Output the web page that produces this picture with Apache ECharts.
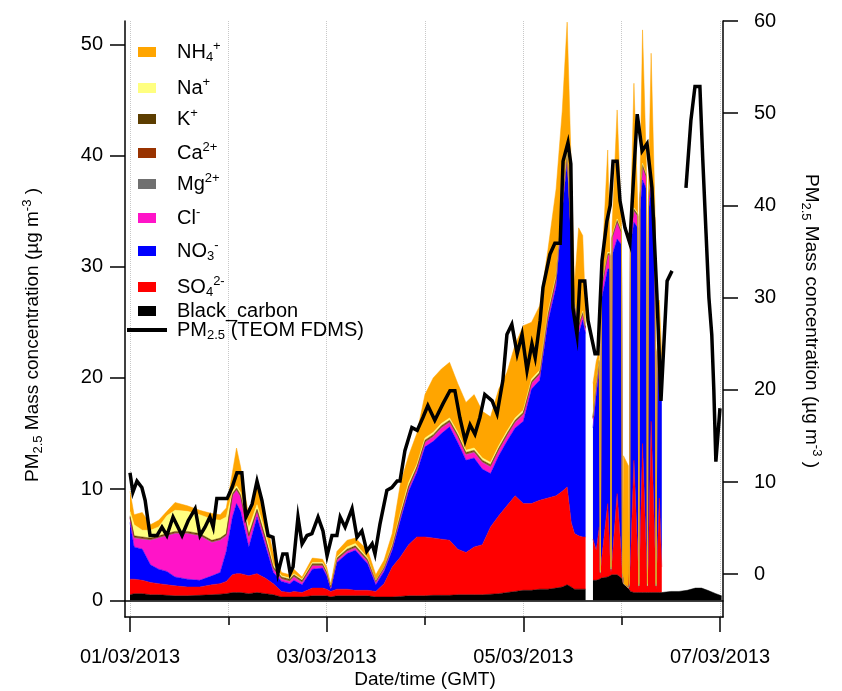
<!DOCTYPE html>
<html lang="en">
<head>
<meta charset="UTF-8">
<title>PM2.5 composition</title>
<script src="https://cdn.jsdelivr.net/npm/echarts@6/dist/echarts.min.js"></script>
<style>
  html, body { margin: 0; padding: 0; background: #fff; }
  #main { width: 842px; height: 691px; }
</style>
</head>
<body>
<div id="main"></div>
<script>
// hours since 01/03/2013 00:00 GMT
var hours = [
  0, 1, 3, 5, 7, 9, 11, 14, 17, 20, 22, 23.5,
  25, 26, 27, 29, 31, 33, 35, 37, 39, 40,
  42, 44.5, 47, 48, 49, 50.5, 53, 55, 58, 60,
  62, 64, 66, 68, 70, 72, 74, 76, 78, 80,
  82, 84, 86, 88, 90, 92, 94, 96, 98, 100,
  102, 104, 105.5, 106.7, 107.7, 108.5, 109.5, 110.5, 111.2,
  112,
  113, 113.8, 114.55, 114.8, 115.05, 116.6, 117.15, 117.4, 117.65, 118.9,
  119.95, 120.2, 120.45, 121.65, 121.9, 122.15, 123, 123.95, 124.2, 124.45,
  125.1, 126.05, 126.3, 126.55, 127.2, 128.15, 128.4, 128.65, 129.2, 129.8,
  130, 132, 134, 136, 138, 139.5, 141, 143, 144.4
];

var blackCarbon = [
  .5, .6, .6, .5, .5, .45, .4, .4, .45, .5, .55, .6,
  .7, .7, .7, .6, .7, .6, .5, .3, .3, .3,
  .3, .4, .4, .4, .3, .4, .4, .4, .4, .3,
  .3, .3, .35, .4, .4, .4, .45, .45, .45, .5,
  .5, .5, .5, .55, .6, .7, .8, .9, .9, 1.0,
  1.0, 1.1, 1.2, 1.4, 1.2, 1.0, 1.0, 1.0, 1.0,
  null,
  1.8, 1.8, 1.9, 1.9, 2.0, 2.1, 2.2, 2.2, 2.3, 2.3,
  2.0, 1.8, 1.5, 1.1, 1.0, .8, .7, .7, .7, .7,
  .7, .7, .7, .7, .7, .7, .7, .7, .7, .7,
  .7, .8, .8, .9, 1.1, 1.1, .9, .6, .4
];

var sulphate = [
  1.4, 1.3, 1.2, 1.1, 1.0, .95, .9, .8, .75, .9, .95, 1.1,
  1.6, 1.7, 1.7, 1.6, 1.7, 1.4, 1.0, .5, .4, .5,
  .4, .7, .7, .6, .5, .6, .6, .5, .5, .5,
  1.2, 2.7, 3.55, 4.6, 5.3, 5.3, 5.15, 5.05, 4.95, 4.1,
  3.8, 4.3, 4.5, 6.05, 7.0, 7.8, 8.6, 7.8, 7.8, 8.0,
  8.2, 8.3, 8.6, 8.8, 5.8, 5.0, 4.8, 4.7, 4.7,
  null,
  3.7, 2.7, 4.7, .3, 1.5, 6.6, 1.8, .3, 1.2, 7.3,
  2.0, .2, 0, 0, .2, 2.7, 11.9, 3.3, .3, 3.3,
  13.4, 3.3, .3, 3.3, 15.4, 3.8, .3, 2.8, 8.5, 2.3,
  null, null, null, null, null, null, null, null, null
];

var nitrate = [
  5.1, 2.9, 2.8, 1.6, 1.3, 1.2, .8, .7, .6, .8, 1.0, 2.7,
  5.2, 6.3, 5.6, 2.6, 5.1, 3.0, 1.0, .9, .8, 1.0,
  .7, 1.7, 1.8, 1.2, .2, 2.4, 3.2, 3.6, 2.4, .6,
  1.1, 1.5, 3.3, 4.8, 5.8, 8.1, 8.7, 9.5, 10.2, 9.6,
  8.3, 8.0, 6.8, 4.8, 5.4, 5.8, 6.1, 7.4, 10.3, 10.8,
  15.8, 18.8, 25.2, 29.3, 25.0, 20.0, 18.2, 19.5, 18.3,
  null,
  10.0, 14.0, 14.2, .3, 23.5, 21.1, 25.8, .3, 27.5, 22.9,
  28.0, .2, 0, 0, .2, 28.5, 21.4, 29.5, .3, 31.0,
  23.7, 33.0, .3, 31.0, 20.9, 28.5, .3, 18.5, 13.8, 18.0,
  null, null, null, null, null, null, null, null, null
];

var chloride = [
  .4, .8, .9, 2.2, 2.8, 3.2, 3.9, 4.1, 4.0, 3.0, 2.9, 1.4,
  1.9, 1.2, 1.3, .9, .5, .5, .3, .2, .2, .3,
  .2, .3, .2, .2, .1, .2, .2, .2, .2, .2,
  .2, .2, .3, .3, .3, .4, .4, .5, .4, .5,
  .5, .5, .6, .6, .5, .5, .5, .6, .5, .5,
  .5, .6, .6, .5, .5, .5, .6, .5, .4,
  null,
  .8, .7, .6, 0, 1.0, 1.2, 1.2, 0, 1.5, 1.5,
  1.0, 0, 0, 0, 0, 1.0, 1.0, 1.0, 0, 1.0,
  1.2, 1.0, 0, 1.0, 1.0, 1.0, 0, .3, .3, .2,
  null, null, null, null, null, null, null, null, null
];

var magnesium = [
  .04, .04, .04, .04, .04, .04, .04, .04, .04, .04, .04, .04,
  .04, .04, .04, .04, .04, .04, .04, .04, .04, .04,
  .04, .04, .04, .04, .04, .04, .04, .04, .04, .04,
  .04, .04, .04, .04, .04, .04, .04, .04, .04, .04,
  .04, .04, .04, .04, .04, .04, .04, .04, .04, .04,
  .04, .04, .04, .04, .04, .04, .04, .04, .04,
  null,
  .04, .04, .04, 0, .04, .04, .04, 0, .04, .04,
  .04, 0, 0, 0, 0, .04, .04, .04, 0, .04,
  .04, .04, 0, .04, .04, .04, 0, .04, .04, .04,
  null, null, null, null, null, null, null, null, null
];

var calcium = [
  .06, .06, .06, .06, .06, .06, .06, .06, .06, .06, .06, .06,
  .06, .06, .06, .06, .06, .06, .06, .06, .06, .06,
  .06, .06, .06, .06, .06, .06, .06, .06, .06, .06,
  .06, .06, .06, .06, .06, .06, .06, .06, .06, .06,
  .06, .06, .06, .06, .06, .06, .06, .06, .06, .06,
  .06, .06, .06, .06, .06, .06, .06, .06, .06,
  null,
  .06, .06, .06, 0, .06, .06, .06, 0, .06, .06,
  .06, 0, 0, 0, 0, .06, .06, .06, 0, .06,
  .06, .06, 0, .06, .06, .06, 0, .06, .06, .06,
  null, null, null, null, null, null, null, null, null
];

var potassium = [
  .1, .1, .1, .1, .1, .1, .1, .1, .1, .1, .1, .1,
  .1, .1, .1, .1, .1, .1, .1, .1, .1, .1,
  .1, .1, .1, .1, .1, .1, .1, .1, .1, .1,
  .1, .1, .1, .1, .1, .1, .1, .1, .1, .1,
  .1, .1, .1, .1, .1, .1, .1, .1, .1, .1,
  .1, .1, .1, .1, .1, .1, .1, .1, .1,
  null,
  .1, .1, .1, 0, .1, .1, .1, 0, .1, .1,
  .1, 0, 0, 0, 0, .1, .1, .1, 0, .1,
  .1, .1, 0, .1, .1, .1, 0, .1, .1, .1,
  null, null, null, null, null, null, null, null, null
];

var sodium = [
  .4, 1.0, .6, .7, .8, 1.6, 1.9, 1.8, 1.7, 1.9, 1.6, 1.5,
  .2, .2, .2, .6, .4, .5, .2, .1, .1, .1,
  .1, .1, .1, .1, .05, .1, .2, .2, .1, 0,
  0, .1, .2, .3, .2, .2, .2, .2, .2, .2,
  .2, .2, .2, .2, .2, .2, .2, .2, .2, .2,
  .2, .2, .2, .2, .1, .1, .1, .1, .1,
  null,
  .1, .1, .1, 0, .1, .1, .1, 0, .1, .1,
  .1, 0, 0, 0, 0, .1, .1, .1, 0, .1,
  .1, .1, 0, .1, .1, .1, 0, .1, .1, .1,
  null, null, null, null, null, null, null, null, null
];

var ammonium = [
  1.8, .9, 1.6, .5, .6, .4, .7, .5, .4, .5, .5, .8,
  1.7, 3.4, 2.3, 1.0, 1.9, 1.3, 1.0, .3, .3, .4,
  .2, .4, .3, .3, .1, .5, .6, .5, .7, .5,
  .6, 1.0, 2.6, 2.4, 2.8, 3.9, 4.9, 4.9, 5.0, 4.4,
  4.3, 4.8, 4.2, 4.1, 5.1, 5.3, 6.6, 7.6, 5.1, 5.8,
  5.6, 7.8, 8.0, 11.6, 6.2, 1.7, 8.6, 6.8, 1.3,
  null,
  2.9, 2.0, .8, .2, .7, 9.2, .7, .2, .7, 9.8,
  .7, .2, 11.5, 11.0, .1, .7, 11.2, .7, .2, .7,
  12.0, .7, .2, .7, 10.9, .7, .2, .9, 3.4, .5,
  null, null, null, null, null, null, null, null, null
];

// PM2.5 TEOM FDMS, right axis
var pmHours = [
  0, 0.7, 1.7, 2.9, 3.7, 4.9, 6.6, 7.8, 9.0, 10.5,
  12.7, 14.2, 15.9, 17.1, 18.3, 19.5, 20.3, 21.2, 23.7, 24.9,
  26.1, 27.3, 28.3, 29.8, 31.0, 32.2, 33.7, 34.9, 36.1, 37.3,
  38.3, 39.1, 39.8, 41.0, 42.0, 43.2, 44.4, 45.9, 47.1, 48.1,
  49.3, 50.5, 51.3, 52.5, 54.2, 55.4, 56.6, 57.8, 59.1, 59.8,
  61.0, 62.7, 63.9, 65.2, 65.9, 67.1, 68.8, 70.1, 71.5, 72.7,
  74.4, 76.4, 78.1, 79.3, 80.5, 81.8, 83.0, 84.2, 85.4, 86.6,
  88.4, 89.6, 91.0, 92.0, 93.2, 94.5, 95.7, 96.9, 98.1, 98.9,
  100.1, 100.8, 102.5, 103.7, 105.0, 105.7, 106.9, 107.6, 108.1, 109.1,
  109.8, 111.0, 111.8, 113.5, 114.2, 115.2, 116.4, 117.2, 117.9, 118.9,
  119.6, 120.8, 122.0, 123.8, 125.0, 126.2, 127.4, 128.6, 129.6, 131.1,
  132.3, 133.5, 135.7, 136.9, 137.9, 139.1, 139.8, 140.6, 141.3, 142.0,
  142.5, 143.0, 144.0
];
var pm25 = [
  11.0, 8.9, 10.1, 9.4, 8.0, 4.2, 4.2, 5.1, 4.2, 6.2,
  4.2, 5.8, 7.1, 4.2, 5.1, 6.2, 5.1, 8.2, 8.2, 9.4,
  11.0, 11.0, 6.2, 7.6, 10.1, 8.0, 4.2, 4.0, 0.1, 2.2,
  2.2, 0.1, 0.8, 6.2, 3.3, 4.2, 4.4, 6.2, 4.7, 2.0,
  4.2, 4.2, 6.2, 5.1, 7.1, 4.0, 4.7, 2.5, 3.3, 2.2,
  5.4, 9.1, 9.4, 10.1, 10.1, 13.4, 15.9, 15.6, 17.0, 18.3,
  16.7, 18.5, 19.9, 19.9, 17.0, 14.5, 16.2, 15.2, 17.0, 19.5,
  18.8, 17.4, 21.0, 26.0, 27.1, 23.9, 26.0, 22.1, 25.0, 23.5,
  27.5, 31.1, 34.7, 35.9, 35.9, 44.8, 46.8, 44.5, 28.9, 26.0,
  31.8, 31.8, 27.5, 23.9, 23.9, 34.0, 38.3, 40.0, 44.8, 44.8,
  40.5, 37.6, 35.9, 49.9, 45.9, 46.7, 41.9, 30.4, 18.8, 31.8,
  32.9, null, 41.9, 49.2, 52.9, 52.9, 45.0, 37.0, 30.0, 26.0,
  20.0, 12.2, 18.0
];

var dayTicks = [0, 24, 48, 72, 96, 120, 144];
var labelHours = [0, 48, 96, 144];
var labelText = ['01/03/2013', '03/03/2013', '05/03/2013', '07/03/2013'];
var leftTicks = [0, 10, 20, 30, 40, 50];
var rightTicks = [0, 10, 20, 30, 40, 50, 60];

// legend order, top to bottom
var legendNames = ['NH4+', 'Na+', 'K+', 'Ca2+', 'Mg2+', 'Cl-', 'NO3-', 'SO42-', 'Black_carbon', 'PM2.5 (TEOM FDMS)'];
var legendLabels = [
  '{t|NH}{sub|4}{sup|+}', '{t|Na}{sup|+}', '{t|K}{sup|+}', '{t|Ca}{sup|2+}', '{t|Mg}{sup|2+}',
  '{t|Cl}{sup|-}', '{t|NO}{sub|3}{sup|-}', '{t|SO}{sub|4}{sup|2-}', '{t|Black_carbon}',
  '{t|PM}{sub|2.5}{t| (TEOM FDMS)}'
];
var legendCenters = [52, 88, 119, 153, 184, 218, 251, 287, 313, 332];

var FONT = 'Liberation Sans';
var BLACK = '#000';

var rich = {
  gapA: { width: 16 },
  gapB: { width: 5 },
  t: { fontSize: 20, fontFamily: FONT, color: BLACK, lineHeight: 24, verticalAlign: 'middle' },
  sub: { fontSize: 13, fontFamily: FONT, color: BLACK, lineHeight: 14, verticalAlign: 'bottom' },
  sup: { fontSize: 13, fontFamily: FONT, color: BLACK, lineHeight: 4, verticalAlign: 'top' }
};
var titleRich = {
  t: { fontSize: 19, fontFamily: FONT, fill: BLACK, lineHeight: 24, verticalAlign: 'middle' },
  sub: { fontSize: 13, fontFamily: FONT, fill: BLACK, lineHeight: 14, verticalAlign: 'bottom' },
  sup: { fontSize: 13, fontFamily: FONT, fill: BLACK, lineHeight: 4, verticalAlign: 'top' }
};

var layers = [
  { name: 'Black_carbon', values: blackCarbon, color: '#000000' },
  { name: 'SO42-', values: sulphate, color: '#ff0000' },
  { name: 'NO3-', values: nitrate, color: '#0000ff' },
  { name: 'Cl-', values: chloride, color: '#ff14c8' },
  { name: 'Mg2+', values: magnesium, color: '#707070' },
  { name: 'Ca2+', values: calcium, color: '#993300' },
  { name: 'K+', values: potassium, color: '#5c3d00' },
  { name: 'Na+', values: sodium, color: '#ffff80' },
  { name: 'NH4+', values: ammonium, color: '#ffa500' }
];

var xMin = -1.22, xMax = 144.74;
var axisLineStyle = { color: BLACK, width: 1.5 };

// value first, hour second: the stack then sums the concentration, not the time
var series = layers.map(function (l) {
  return {
    type: 'line',
    name: l.name,
    stack: 'ions',
    xAxisIndex: 0,
    yAxisIndex: 0,
    data: hours.map(function (h, i) { return [l.values[i], h]; }),
    encode: { x: 1, y: 0 },
    symbol: 'none',
    connectNulls: false,
    color: l.color,
    itemStyle: { color: l.color },
    lineStyle: { width: 0.5, color: l.color },
    areaStyle: { color: l.color, opacity: 1 },
    silent: true,
    animation: false
  };
});
series.push({
  type: 'line',
  name: 'PM2.5 (TEOM FDMS)',
  xAxisIndex: 0,
  yAxisIndex: 1,
  data: pmHours.map(function (h, i) { return [h, pm25[i]]; }),
  symbol: 'none',
  connectNulls: false,
  color: BLACK,
  itemStyle: { color: BLACK },
  lineStyle: { width: 3.5, color: BLACK, join: 'miter' },
  z: 5,
  silent: true,
  animation: false
});

var legends = legendNames.map(function (n, i) {
  var isLine = i === legendNames.length - 1;
  return {
    data: [n],
    orient: 'vertical',
    left: isLine ? 127 : 138,
    top: legendCenters[i] - 12,
    padding: 0,
    itemGap: 0,
    icon: 'rect',
    itemWidth: isLine ? 40 : 18,
    itemHeight: isLine ? 4 : 10,
    selectedMode: false,
    formatter: function () { return (isLine ? '{gapB|}' : '{gapA|}') + legendLabels[i]; },
    textStyle: { rich: rich }
  };
});

var chart = echarts.init(document.getElementById('main'));
chart.setOption({
  backgroundColor: '#ffffff',
  animation: false,
  grid: { left: 125, right: 119, top: 21, bottom: 74, containLabel: false, outerBoundsMode: 'none' },
  legend: legends,
  xAxis: [
    {
      type: 'value', min: xMin, max: xMax, position: 'bottom',
      axisLine: { onZero: false, lineStyle: axisLineStyle },
      axisTick: { customValues: dayTicks, length: 8, lineStyle: axisLineStyle },
      axisLabel: { show: false },
      splitLine: { show: true, lineStyle: { color: '#c8c8c8', type: 'dotted', width: 1 } }
    },
    {
      type: 'value', min: xMin, max: xMax, position: 'bottom',
      axisLine: { show: false, onZero: false },
      axisTick: { customValues: labelHours, length: 15, lineStyle: axisLineStyle },
      axisLabel: {
        customValues: labelHours, margin: 30, fontSize: 20, fontFamily: FONT, color: BLACK,
        formatter: function (v) { return labelText[labelHours.indexOf(v)]; }
      },
      splitLine: { show: false }
    },
    {
      type: 'value', min: xMin, max: xMax, position: 'bottom',
      axisLine: { show: true, onZero: true, onZeroAxisIndex: 0, lineStyle: axisLineStyle },
      axisTick: { show: false },
      axisLabel: { show: false },
      splitLine: { show: false }
    }
  ],
  yAxis: [
    {
      type: 'value', min: -1.5, max: 52.1, position: 'left',
      axisLine: { show: true, onZero: false, lineStyle: axisLineStyle },
      axisTick: { show: true, customValues: leftTicks, length: 15, lineStyle: axisLineStyle },
      axisLabel: { customValues: leftTicks, margin: 22, fontSize: 20, fontFamily: FONT, color: BLACK },
      splitLine: { show: false }
    },
    {
      type: 'value', min: -4.64, max: 60, position: 'right',
      axisLine: { show: true, onZero: false, lineStyle: axisLineStyle },
      axisTick: { show: true, customValues: rightTicks, length: 15, lineStyle: axisLineStyle },
      axisLabel: { customValues: rightTicks, margin: 31, fontSize: 20, fontFamily: FONT, color: BLACK },
      splitLine: { show: false }
    }
  ],
  graphic: [
    {
      type: 'text', x: 33, y: 335, rotation: Math.PI / 2,
      style: {
        text: '{t|PM}{sub|2.5}{t| Mass concentration (µg m}{sup|-3}{t| )}',
        rich: titleRich, align: 'center', verticalAlign: 'middle'
      }
    },
    {
      type: 'text', x: 811, y: 321, rotation: -Math.PI / 2,
      style: {
        text: '{t|PM}{sub|2.5}{t| Mass concentration (µg m}{sup|-3}{t| )}',
        rich: titleRich, align: 'center', verticalAlign: 'middle'
      }
    },
    {
      type: 'text', x: 425, y: 680,
      style: {
        text: 'Date/time (GMT)', fontSize: 19, fontFamily: FONT, fill: BLACK,
        align: 'center', verticalAlign: 'middle'
      }
    }
  ],
  series: series
});
</script>
</body>
</html>
